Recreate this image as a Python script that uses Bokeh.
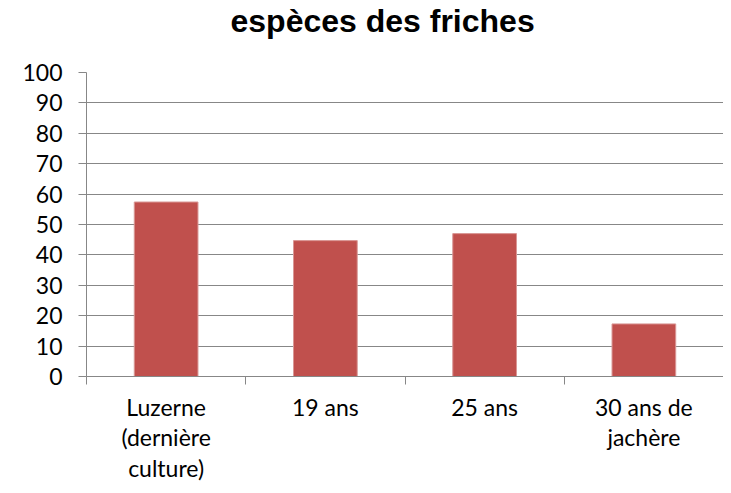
from bokeh.plotting import figure
from bokeh.models import FixedTicker, Range1d, ColumnDataSource, Title
from bokeh.embed import file_html
from bokeh.resources import INLINE

title_text = "espèces des friches"
categories = ["Luzerne\n(dernière\nculture)", "19 ans", "25 ans", "30 ans de\njachère"]
values = [57.4, 44.7, 47.0, 17.3]
y_ticks = [0, 10, 20, 30, 40, 50, 60, 70, 80, 90, 100]

xpos = [i + 0.5 for i in range(len(categories))]
src = ColumnDataSource(dict(x=xpos, top=values))

p = figure(width=723, height=485, output_backend="svg", toolbar_location=None,
           x_range=Range1d(0, len(categories)), y_range=Range1d(0, 100),
           min_border_left=86, min_border_right=0, min_border_top=72, min_border_bottom=107)
p.outline_line_color = None
p.background_fill_color = "white"
p.border_fill_color = "white"

# spacer between the title and the plot area
spacer = Title(text=" ", text_font_size="1px", standoff=31)
p.add_layout(spacer, "above")

title = Title(text=title_text, align="left", vertical_align="bottom",
              text_font="Liberation Sans", text_font_size="32px", text_font_style="bold",
              text_color="black", offset=144, standoff=0)
p.add_layout(title, "above")

p.vbar(x="x", top="top", bottom=0, width=0.4, source=src,
       fill_color="#C0504D", line_color="#D99795", line_width=1)

# y axis
p.yaxis.ticker = FixedTicker(ticks=y_ticks)
p.yaxis.axis_line_color = "#878787"
p.yaxis.major_tick_line_color = "#878787"
p.yaxis.major_tick_out = 8
p.yaxis.major_tick_in = 0
p.yaxis.minor_tick_line_color = None
p.yaxis.major_label_text_font = "Lato"
p.yaxis.major_label_text_font_size = "23px"
p.yaxis.major_label_text_color = "black"
p.yaxis.major_label_standoff = 16

# x axis: labels at centers, ticks at boundaries (minor ticks)
p.xaxis.ticker = FixedTicker(ticks=xpos, minor_ticks=list(range(len(categories) + 1)))
p.xaxis.major_label_overrides = {x: c for x, c in zip(xpos, categories)}
p.xaxis.axis_line_color = "#878787"
p.xaxis.major_tick_line_color = None
p.xaxis.minor_tick_line_color = "#878787"
p.xaxis.minor_tick_out = 8
p.xaxis.minor_tick_in = 0
p.xaxis.major_label_text_font = "Lato"
p.xaxis.major_label_text_font_size = "23px"
p.xaxis.major_label_text_color = "black"
p.xaxis.major_label_text_line_height = 1.1
p.xaxis.major_label_standoff = 8

p.xgrid.grid_line_color = None
p.ygrid.grid_line_color = "#878787"
p.ygrid.grid_line_width = 1

open("out.html", "w").write(file_html(p, INLINE))
